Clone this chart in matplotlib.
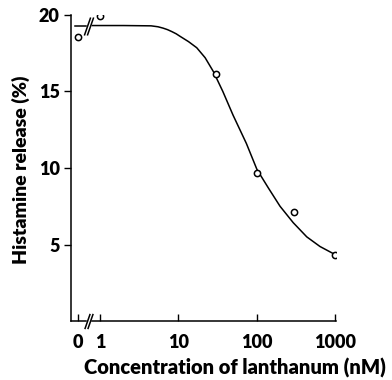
import numpy as np
import matplotlib.pyplot as plt
from matplotlib.ticker import NullLocator

# measured points (0 nM is drawn at ZERO_POS on the log axis)
conc_pts = [0, 1, 30, 100, 300, 1000]
release_pts = [18.55, 19.95, 16.15, 9.65, 7.15, 4.3]
ZERO_POS = 0.52

# fitted curve: short stub before the break, then the rest
stub_conc = [0.48, 0.665]
stub_rel = [19.3, 19.3]
curve_conc = [0.8, 2, 4.5, 5.5, 6.4, 7.3, 8.3, 9.4, 10.5, 13.5, 17.2, 22, 28, 37,
              50, 74, 101, 141, 199, 293, 437, 645, 1000]
curve_rel = [19.3, 19.3, 19.28, 19.22, 19.13, 19.03, 18.9, 18.76, 18.6, 18.25,
             17.85, 17.2, 16.3, 15.0, 13.45, 11.6, 9.9, 8.7, 7.5, 6.43, 5.5,
             4.87, 4.35]

xticks = [ZERO_POS, 1, 10, 100, 1000]
xlabels = ['0', '1', '10', '100', '1000']
yticks = [5, 10, 15, 20]

XMIN, XMAX = 0.426, 1030
AXIS_BREAK = [0.675, 0.755]

plt.rcParams['font.family'] = ['Lato', 'DejaVu Sans']

fig = plt.figure(figsize=(3.92, 3.80), dpi=100)
ax = fig.add_axes([0.181, 0.155, 0.676, 0.806])

x_plot = [ZERO_POS if c == 0 else c for c in conc_pts]
ax.plot(x_plot, release_pts, 'o', mfc='white', mec='black', ms=4.5, mew=1.1, zorder=3)
ax.plot(stub_conc, stub_rel, 'k-', lw=1.1)
ax.plot(curve_conc, curve_rel, 'k-', lw=1.1)

ax.set_xscale('log')
ax.set_xlim(XMIN, XMAX)
ax.set_ylim(0, 20)
ax.set_xticks(xticks)
ax.set_xticklabels(xlabels, fontweight='heavy')
ax.xaxis.set_minor_locator(NullLocator())
ax.set_yticks(yticks)
ax.set_yticklabels([str(v) for v in yticks], fontweight='heavy')

for s in ['top', 'right']:
    ax.spines[s].set_visible(False)
ax.spines['left'].set_linewidth(1.1)
ax.spines['bottom'].set_linewidth(1.1)
ax.spines['bottom'].set_bounds(AXIS_BREAK[1] * 1.04, XMAX)
ax.plot([XMIN, AXIS_BREAK[0] * 0.97], [0, 0], 'k-', lw=1.1, clip_on=False)

ax.tick_params(axis='x', direction='in', length=5, width=1.0, labelsize=13, pad=9)
ax.tick_params(axis='y', direction='out', length=5, width=1.0, labelsize=13, pad=3)

# break marks on the axis and on the curve
slash = [(-0.35, -1), (0.35, 1)]
ax.plot(AXIS_BREAK, [0, 0], ls='none', marker=slash, ms=11, mec='black', mew=1.1, clip_on=False)
ax.plot(AXIS_BREAK, [19.3, 19.3], ls='none', marker=slash, ms=13, mec='black', mew=1.1)

fig.text(0.6, 0.032, 'Concentration of lanthanum (nM)', ha='center', va='center',
         fontsize=14.5, fontweight='heavy')
fig.text(0.054, 0.553, 'Histamine release (%)', ha='center', va='center',
         rotation=90, fontsize=14, fontweight='heavy')

fig.savefig('out.png', dpi=100)
